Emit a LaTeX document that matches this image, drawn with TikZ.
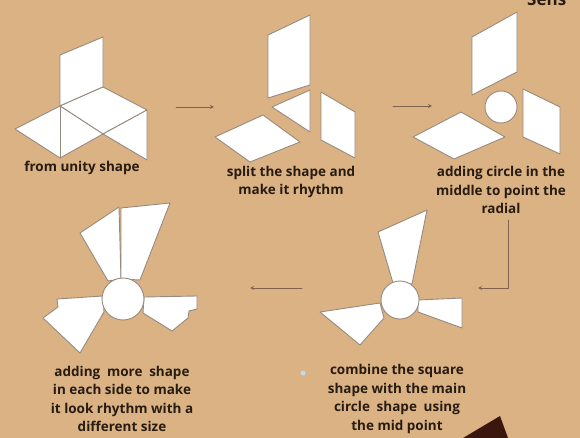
\documentclass[tikz,border=0pt]{standalone}
\usepackage{fontspec}
\setmainfont{Open Sans}
\definecolor{board}{RGB}{219,178,132}
\definecolor{edge}{RGB}{150,138,126}
\definecolor{ink}{RGB}{40,28,18}
\definecolor{wire}{RGB}{128,98,78}
\definecolor{burnt}{RGB}{58,22,14}
\definecolor{speck}{RGB}{195,218,236}
\begin{document}
\begin{tikzpicture}[x=1pt,y=-1pt,>=stealth, line join=round, line cap=round,
    piece/.style={fill=white,draw=edge,line width=0.9pt},
    caption/.style={font=\bfseries\fontsize{13.5}{18.5}\selectfont,text=ink,align=center,inner sep=0pt},
    flow/.style={->,draw=wire,line width=0.8pt}]
            \useasboundingbox (0,0) rectangle (580,438);
            \clip (0,0) rectangle (580,438);
            \fill[board] (0,0) rectangle (580,438);
            \node[font=\bfseries\fontsize{17}{17}\selectfont,text=ink,anchor=base west,inner sep=0pt] (title) at (527,6) {Sens};
            % stage 1
            \draw[piece] (60,55)--(103,37)--(103,87)--(60,106)--cycle;
            \draw[piece] (60,106)--(103,87)--(147,110)--(103,134)--cycle;
            \draw[piece] (15,129)--(60,106)--(103,134)--(60,158)--cycle;
            \draw[edge,line width=0.9pt] (60,106)--(60,158);
            \draw[piece] (103,134)--(147,110)--(147,160)--cycle;
            \node[caption] (cap1) at (82,168) {from unity shape};
            % stage 2
            \draw[piece] (268,35)--(310,15)--(310,85)--(268,98)--cycle;
            \draw[piece] (272,107)--(310,90)--(310,132)--cycle;
            \draw[piece] (215,137)--(263,115)--(300,142)--(250,162)--cycle;
            \draw[piece] (321,92)--(355,112)--(355,158)--(321,140)--cycle;
            \node[caption] (cap2) at (291,182) {split the shape and\\make it rhythm};
            % stage 3
            \draw[piece] (472,37)--(517,12)--(517,72)--(472,95)--cycle;
            \draw[piece] (413,137)--(461,112)--(505,137)--(454,159)--cycle;
            \draw[piece] (523,89)--(560,107)--(560,154)--(523,137)--cycle;
            \draw[piece] (501,107) circle (16);
            \node[caption] (cap3) at (501,190) {adding circle in the\\middle to point the\\radial};
            % stage 5
            \draw[piece] (393,283)--(378,232)--(427,210)--(412,284)--cycle;
            \draw[piece] (320,312)--(380,303)--(384,318)--(360,345)--cycle;
            \draw[piece] (418,300)--(462,298)--(462,328)--(418,312)--cycle;
            \draw[piece] (400,300) circle (19);
            \fill[speck] (303,373) circle (2.5);
            \node[caption] (cap5) at (397,399) {combine the square\\shape with the main\\circle\enspace shape\enspace using\\the mid point};
            % stage 4
            \draw[piece] (80,233)--(119,207)--(121,279)--(108,281)--cycle;
            \draw[piece] (121,208)--(170,203)--(140,280)--(121,279)--cycle;
            \draw[piece] (43,318)--(58,307)--(57,299)--(103,296)--(104,312)--(80,353)--cycle;
            \draw[piece] (144,297)--(197,296)--(197,309)--(189,311)--(188,318)--(172,331)--(143,313)--cycle;
            \draw[piece] (123,299) circle (21);
            \node[caption] (cap4) at (122,399) {adding\enspace more\enspace shape\\in each side to make\\it look rhythm with a\\different size};
            % arrows
            \coordinate (s1out) at (176,107);
            \coordinate (s2in) at (214,107);
            \coordinate (s2out) at (393,106);
            \coordinate (s3in) at (432,106);
            \coordinate (s3down) at (508,220);
            \coordinate (s5in) at (478,288);
            \coordinate (s5out) at (302,288);
            \coordinate (s4in) at (250,288);
            \draw[flow] (s1out)--(s2in);
            \draw[flow] (s2out)--(s3in);
            \draw[flow] (s3down) |- (s5in);
            \draw[flow] (s5out)--(s4in);
            \fill[burnt] (463,438)--(500,416)--(508,438)--cycle;
        \end{tikzpicture}
\end{document}
